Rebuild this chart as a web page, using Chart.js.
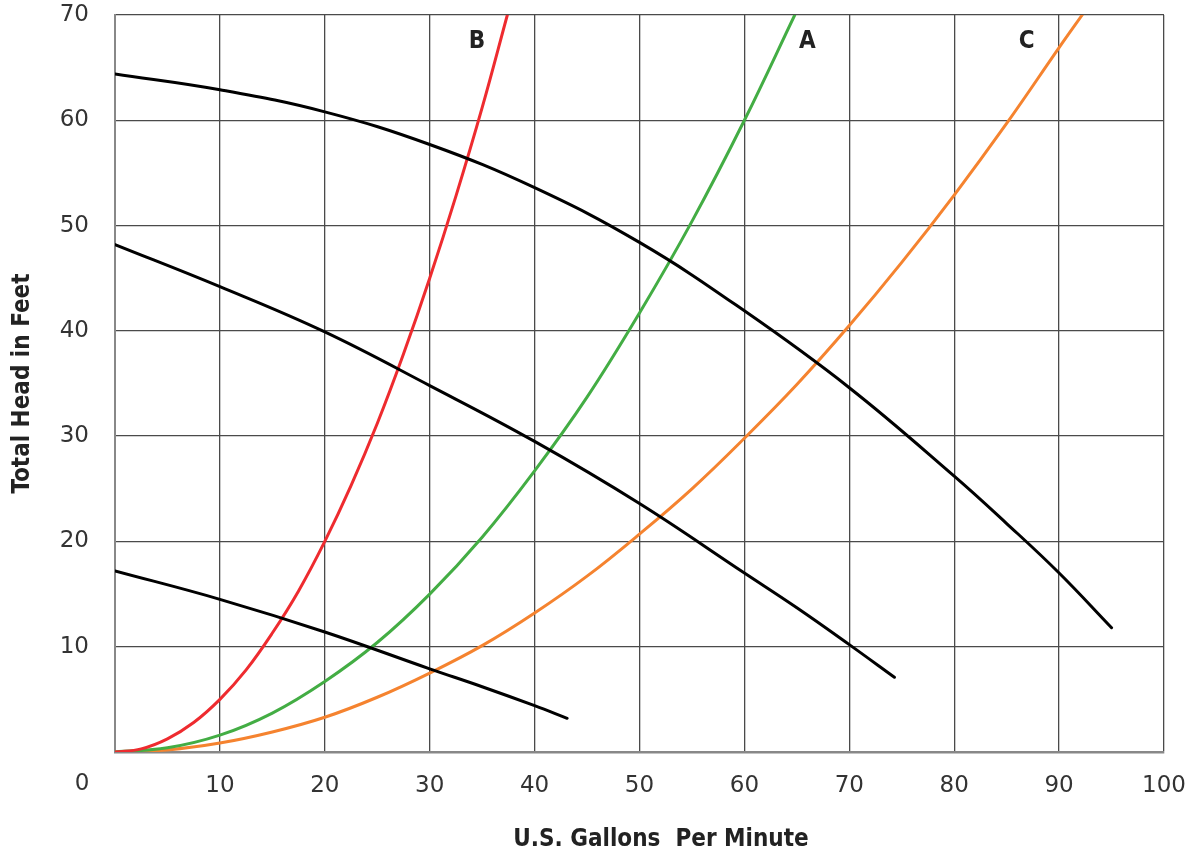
<!DOCTYPE html>
<html>
<head>
<meta charset="utf-8">
<script src="https://cdn.jsdelivr.net/npm/chart.js@4.4.1/dist/chart.umd.min.js"></script>
<style>
  html, body { margin: 0; padding: 0; background: #fff; }
  #wrap { width: 1192px; height: 857px; position: relative; }
</style>
</head>
<body>
<div id="wrap"><canvas id="pump-chart"></canvas></div>
<script>
// Pump performance curves (black)
const pumpHighGpm = [0, 10, 20, 30, 40, 50, 60, 70, 80, 85, 90, 95];
const pumpHighHead = [64.4, 62.9, 60.8, 57.7, 53.6, 48.4, 41.9, 34.6, 26.2, 21.7, 17.0, 11.8];

const pumpMidGpm = [0, 10, 20, 30, 40, 50, 60, 65, 70, 74.3];
const pumpMidHead = [48.2, 44.2, 39.9, 34.8, 29.5, 23.6, 17.0, 13.7, 10.2, 7.1];

const pumpLowGpm = [0, 10, 20, 30, 35, 40, 43.1];
const pumpLowHead = [17.2, 14.5, 11.4, 7.9, 6.2, 4.4, 3.2];

// System curves A, B, C
const sysBGpm = [0, 2.5, 5, 7.5, 10, 12.5, 15, 17.5, 20, 22.5, 25, 27.5, 30, 32.5, 35, 37.4];
const sysBHead = [0, 0.3, 1.25, 2.8, 5.0, 7.8, 11.3, 15.3, 20.0, 25.3, 31.2, 37.8, 45.0, 52.8, 61.2, 70];

const sysAGpm = [0, 5, 10, 15, 20, 25, 30, 35, 40, 45, 50, 55, 60, 64.8];
const sysAHead = [0, 0.4, 1.6, 3.7, 6.7, 10.4, 15.0, 20.4, 26.7, 33.7, 41.7, 50.4, 60.0, 70];

const sysCGpm = [0, 5, 10, 15, 20, 25, 30, 35, 40, 45, 50, 55, 60, 65, 70, 75, 80, 85, 90, 92.2];
const sysCHead = [0, 0.2, 0.85, 1.9, 3.3, 5.2, 7.5, 10.1, 13.2, 16.7, 20.7, 25.0, 29.8, 34.9, 40.5, 46.5, 52.9, 59.7, 66.9, 70];

// curve labels: [text, gpm, head]
const curveLabels = [['B', 34.5, 67.5], ['A', 66.0, 67.5], ['C', 86.9, 67.5]];

const xTicks = [0, 10, 20, 30, 40, 50, 60, 70, 80, 90, 100];
const yTicks = [0, 10, 20, 30, 40, 50, 60, 70];

const xTitle = 'U.S. Gallons  Per Minute';
const yTitle = 'Total Head in Feet';

const tickFont = { family: "'DejaVu Sans', sans-serif", size: 23 };
const boldFont = "bold 24px 'DejaVu Sans Condensed', 'DejaVu Sans', sans-serif";

function pts(xs, ys) {
    return xs.map((x, i) => ({ x: x, y: ys[i] }));
}

function line(label, xs, ys, color) {
    return {
        label: label,
        data: pts(xs, ys),
        borderColor: color,
        borderWidth: 3,
        pointRadius: 0,
        fill: false,
        tension: 0.4,
        borderCapStyle: 'round'
    };
}

// keep the plot box where the reference has it
function noOverflow(s) {
    s.paddingTop = 0;
    s.paddingBottom = 0;
    s.paddingLeft = 0;
    s.paddingRight = 0;
}

// draws the A/B/C tags, the corner "0" and the x title
const extras = {
    id: 'extras',
    afterDraw(chart) {
        const ctx = chart.ctx;
        const xs = chart.scales.x, ys = chart.scales.y;
        ctx.save();
        ctx.fillStyle = '#222';
        ctx.textAlign = 'center';
        ctx.textBaseline = 'middle';
        ctx.font = boldFont;
        curveLabels.forEach(([t, gx, gy]) => {
            ctx.fillText(t, xs.getPixelForValue(gx), ys.getPixelForValue(gy));
        });
        ctx.fillText(xTitle, 661, 840);

        ctx.font = tickFont.size + 'px ' + tickFont.family;
        ctx.fillStyle = '#333';
        ctx.fillText('0', xs.getPixelForValue(0) - 33, 784);
        ctx.restore();
    }
};

new Chart(document.getElementById('pump-chart'), {
    type: 'line',
    data: {
        datasets: [
            line('Pump high', pumpHighGpm, pumpHighHead, '#000000'),
            line('Pump mid', pumpMidGpm, pumpMidHead, '#000000'),
            line('Pump low', pumpLowGpm, pumpLowHead, '#000000'),
            line('B', sysBGpm, sysBHead, '#ee2b2f'),
            line('A', sysAGpm, sysAHead, '#43ad44'),
            line('C', sysCGpm, sysCHead, '#f5832f')
        ]
    },
    options: {
        responsive: true,
        maintainAspectRatio: false,
        animation: false,
        layout: { padding: { top: 15, right: 28, left: 0, bottom: 0 } },
        plugins: {
            legend: { display: false },
            tooltip: { enabled: false }
        },
        scales: {
            x: {
                type: 'linear',
                min: 0,
                max: 100,
                afterBuildTicks: (s) => { s.ticks = xTicks.map(v => ({ value: v })); },
                afterFit: (s) => { s.height = 105; noOverflow(s); },
                grid: { color: '#4a4a4a', lineWidth: 1.3, drawTicks: false },
                border: { color: '#888', width: 2.5 },
                ticks: {
                    color: '#333',
                    font: tickFont,
                    padding: 20,
                    maxRotation: 0,
                    callback: (v) => v === 0 ? '' : v
                }
            },
            y: {
                type: 'linear',
                min: 0,
                max: 70,
                afterBuildTicks: (s) => { s.ticks = yTicks.map(v => ({ value: v })); },
                afterFit: (s) => { s.width = 115; noOverflow(s); },
                grid: { color: '#4a4a4a', lineWidth: 1.3, drawTicks: false },
                border: { color: '#888', width: 2 },
                ticks: {
                    color: '#333',
                    font: tickFont,
                    padding: 26,
                    callback: (v) => v === 0 ? '' : v
                },
                title: {
                    display: true,
                    text: yTitle,
                    color: '#222',
                    font: { family: "'DejaVu Sans Condensed', 'DejaVu Sans', sans-serif", size: 24, weight: 'bold' },
                    padding: { top: 8, bottom: 0 }
                }
            }
        }
    },
    plugins: [extras]
});
</script>
</body>
</html>
